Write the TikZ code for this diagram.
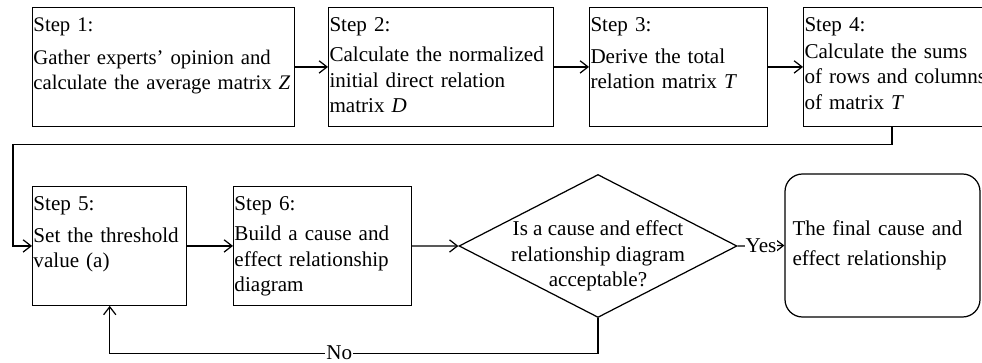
\documentclass[tikz,border=0pt]{standalone}
\usepackage{fontspec}
\setmainfont{Liberation Serif}
\usetikzlibrary{arrows.meta,shapes.geometric}

\begin{document}
\begin{tikzpicture}[
  stepbox/.style={draw,line width=0.7pt,anchor=north west,align=left,inner xsep=0.5pt,inner ysep=2.5pt,text height=11pt,text depth=51.5pt,font=\fontsize{12}{14.4}\selectfont},
  decision/.style={draw,line width=0.7pt,diamond,aspect=1.94,inner xsep=-0.6cm,inner ysep=-0.2cm,minimum width=5.56cm,minimum height=2.86cm,align=center,text height=46pt,text depth=0pt,font=\fontsize{12}{14.4}\selectfont},
  final/.style={draw,line width=0.7pt,rounded corners=0.35cm,minimum width=3.9cm,minimum height=2.86cm,text width=3.6cm,align=left,font=\fontsize{12}{17}\selectfont},
  arr/.style={-{Straight Barb[length=4.5pt,width=7pt]},line width=0.7pt}]
  \useasboundingbox (0,0) rectangle (19.64,7.24);
  \clip (0,0) rectangle (19.64,7.24);
  % First row
  \node[stepbox,text width=5.2cm,font=\fontsize{11.8}{14.6}\selectfont] (s1) at (0.64,7.10) {Step 1:\\[4pt]Gather experts’ opinion and\\\mbox{calculate the average matrix \textit{Z}}};
  \node[stepbox,text width=4.46cm] (s2) at (6.56,7.10) {Step 2:\\[3pt]Calculate the normalized\\initial direct relation\\matrix \textit{D}};
  \node[stepbox,text width=3.52cm] (s3) at (11.78,7.10) {Step 3:\\[4pt]Derive the total\\relation matrix \textit{T}};
  \node[stepbox,text width=4.2cm] (s4) at (16.06,7.10) {Step 4:\\[1pt]Calculate the sums\\of rows and columns\\of matrix \textit{T}};
  \draw[arr] (s1.east) -- (s2.west);
  \draw[arr] (s2.east) -- (s3.west);
  \draw[arr] (s3.east) -- (s4.west);
  % Second row
  \node[stepbox,text width=3.05cm] (s5) at (0.64,3.52) {Step 5:\\[4pt]Set the threshold\\value (a)};
  \node[stepbox,text width=3.52cm] (s6) at (4.66,3.52) {Step 6:\\[3pt]Build a cause and\\effect relationship\\diagram};
  \node[decision] (dec) at (11.96,2.32) {Is a cause and effect\\relationship diagram\\acceptable?};
  \node[final] (end) at (17.65,2.33) {The final cause and\\effect relationship};
  % Connectors
  \draw[arr] ([xshift=1.78cm]s4.south west) -- ++(0,-0.36) -| ([xshift=-0.38cm]s5.west) -- (s5.west);
  \draw[arr] (s5.east) -- (s6.west);
  \draw[arr] (s6.east) -- (dec.west);
  \draw[arr] (dec.east) -- node[fill=white,inner sep=0.5pt,font=\fontsize{12}{14.4}\selectfont] {Yes} (end.west);
  \draw[arr] (dec.south) -- ++(0,-0.70) -| node[pos=0.265,fill=white,inner sep=0.5pt,font=\fontsize{12}{14.4}\selectfont] {No} (s5.south);
\end{tikzpicture}
\end{document}
